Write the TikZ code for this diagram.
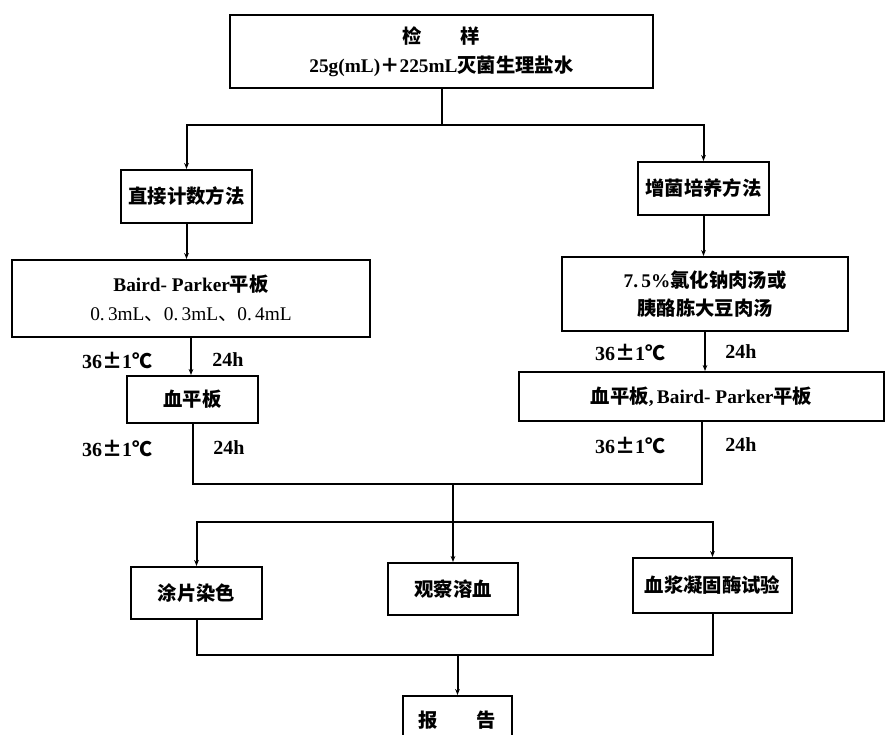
\documentclass[tikz,border=0pt]{standalone}
\usepackage{fontspec}
\setmainfont{Liberation Serif}
\newfontfamily\cjk{Noto Sans CJK SC}
\usetikzlibrary{arrows.meta}
\newcommand{\zh}[1]{{\cjk #1}}
\begin{document}
\begin{tikzpicture}[x=0.75pt,y=-0.75pt,
  box/.style={draw, line width=1.5pt, inner sep=0pt, align=center,
    font=\fontsize{14.5}{17}\selectfont\bfseries},
  sz/.style 2 args={minimum width=#1*0.75pt, minimum height=#2*0.75pt},
  lbl/.style={inner sep=0pt, font=\fontsize{15}{17}\selectfont\bfseries},
  conn/.style={line width=1.5pt},
  arr/.style={conn, -{Stealth[length=4.5pt,width=3.5pt]}}]
\useasboundingbox (0,0) rectangle (887,734);

% boxes
\node[box, sz={423}{73}] (top) at (441.5,51.5)
  {\zh{检\quad\quad 样}\\[5pt]25g(mL)\zh{＋}225mL\zh{灭菌生理盐水}};
\node[box, sz={131}{53}] (direct) at (186.5,196.5) {\zh{直接计数方法}};
\node[box, sz={131}{53}] (enrich) at (703.5,188.5) {\zh{增菌培养方法}};
\node[box, sz={358}{77}] (bp1) at (191,298.5)
  {Baird- Parker\zh{平板}\\[5pt]{\mdseries 0.\,3mL\zh{、}0.\,3mL\zh{、}0.\,4mL}};
\node[box, sz={286}{74}] (broth) at (705,294)
  {7.\,5\%\zh{氯化钠肉汤或}\\[4pt]\zh{胰酪胨大豆肉汤}};
\node[box, sz={131}{47}] (blood) at (192.5,399.5) {\zh{血平板}};
\node[box, sz={365}{49}] (bp2) at (701.5,396.5) {\zh{血平板},\,Baird- Parker\zh{平板}};
\node[box, sz={131}{52}] (smear) at (196.5,593) {\zh{涂片染色}};
\node[box, sz={130}{52}] (hemo) at (453,589) {\zh{观察溶血}};
\node[box, sz={159}{55}] (coag) at (712.5,585.5) {\zh{血浆凝固酶试验}};
\node[box, sz={109}{48}] (report) at (457.5,720) {\zh{报\quad\quad 告}};

% labels
\node[lbl] (t1) at (117,360) {36\zh{±}1\zh{℃}};
\node[lbl] (h1) at (228,360) {24h};
\node[lbl] (t2) at (117,448) {36\zh{±}1\zh{℃}};
\node[lbl] (h2) at (229,448) {24h};
\node[lbl] (t3) at (630,352) {36\zh{±}1\zh{℃}};
\node[lbl] (h3) at (741,352) {24h};
\node[lbl] (t4) at (630,445) {36\zh{±}1\zh{℃}};
\node[lbl] (h4) at (741,445) {24h};

% junctions
\coordinate (split) at (441.5,125);
\coordinate (j1) at (453,484);
\coordinate (j2) at (453,522);
\coordinate (j3) at (457.5,655);

% connectors
\draw[conn] (top.south) -- (split);
\draw[arr] (split) -| (direct.north);
\draw[arr] (split) -| (enrich.north);
\draw[arr] (direct.south) -- (direct.south |- bp1.north);
\draw[arr] (enrich.south) -- (enrich.south |- broth.north);
\draw[arr] (bp1.south) -- (bp1.south |- blood.north);
\draw[arr] (broth.south) -- (broth.south |- bp2.north);
\draw[conn] (blood.south) |- (j1) -| (bp2.south);
\draw[arr] (j1) -- (hemo.north);
\draw[arr] (j2) -| (smear.north);
\draw[arr] (j2) -| (coag.north);
\draw[conn] (smear.south) |- (j3) -| (coag.south);
\draw[arr] (j3) -- (report.north);
\end{tikzpicture}
\end{document}
